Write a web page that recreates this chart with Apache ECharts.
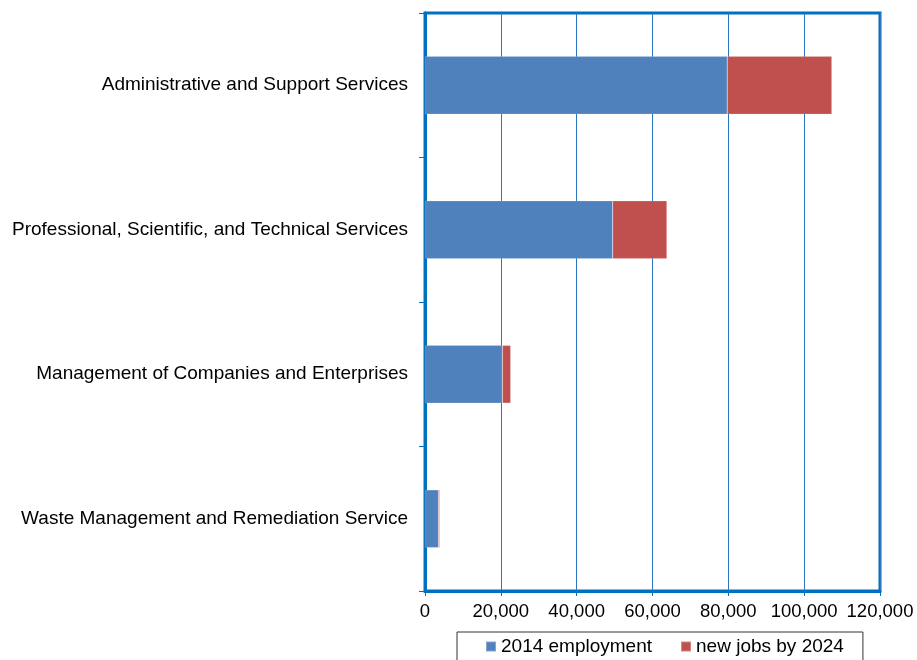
<!DOCTYPE html>
<html><head><meta charset="utf-8">
<script src="https://cdn.jsdelivr.net/npm/echarts@6/dist/echarts.min.js"></script>
<style>html,body{margin:0;padding:0;background:#fff}#c{width:917px;height:660px}</style>
</head><body><div id="c"></div>
<script>
var categories = ["Administrative and Support Services","Professional, Scientific, and Technical Services","Management of Companies and Enterprises","Waste Management and Remediation Service"];
var employment2014 = [79700, 49500, 20400, 3550];
var newJobs2024 = [27600, 14300, 2200, 300];
var seriesNames = ["2014 employment", "new jobs by 2024"];
var xTicks = {min: 0, max: 120000, interval: 20000};

var chart = echarts.init(document.getElementById('c'));
var font = 'Arial, "Liberation Sans", sans-serif';
chart.setOption({
  animation: false,
  grid: {left: 425, right: 37, top: 13, bottom: 69, show: true, borderColor: '#0070c0', borderWidth: 3, backgroundColor: 'transparent'},
  legend: {
    data: seriesNames, left: 457, top: 632, icon: 'rect', itemWidth: 10, itemHeight: 10, itemGap: 28,
    padding: [5, 19, 14, 28], borderColor: '#333', borderWidth: 1,
    textStyle: {fontFamily: font, fontSize: 19, color: '#000'}
  },
  xAxis: {
    type: 'value', min: xTicks.min, max: xTicks.max, interval: xTicks.interval,
    axisLine: {show: true, lineStyle: {color: '#0070c0', width: 3}},
    axisTick: {show: true, length: 5, lineStyle: {color: '#0070c0'}},
    splitLine: {show: true, lineStyle: {color: '#2a78c4', width: 1}},
    axisLabel: {fontFamily: font, fontSize: 18.5, color: '#000', margin: 11,
      formatter: function(v){ return v.toLocaleString('en-US'); }}
  },
  yAxis: {
    type: 'category', data: categories, inverse: true,
    axisLine: {show: true, lineStyle: {color: '#0070c0', width: 3}},
    axisTick: {show: true, length: 6, lineStyle: {color: '#0070c0'}},
    axisLabel: {fontFamily: font, fontSize: 19, color: '#000', margin: 17}
  },
  series: [
    {name: seriesNames[0], type: 'bar', stack: 'a', data: employment2014, barWidth: '40%',
     itemStyle: {color: '#4f81bd', borderColor: 'rgba(255,255,255,0.3)', borderWidth: 0.5}},
    {name: seriesNames[1], type: 'bar', stack: 'a', data: newJobs2024, barWidth: '40%',
     itemStyle: {color: '#c0504d', borderColor: 'rgba(255,255,255,0.3)', borderWidth: 0.5}}
  ]
});
</script></body></html>
